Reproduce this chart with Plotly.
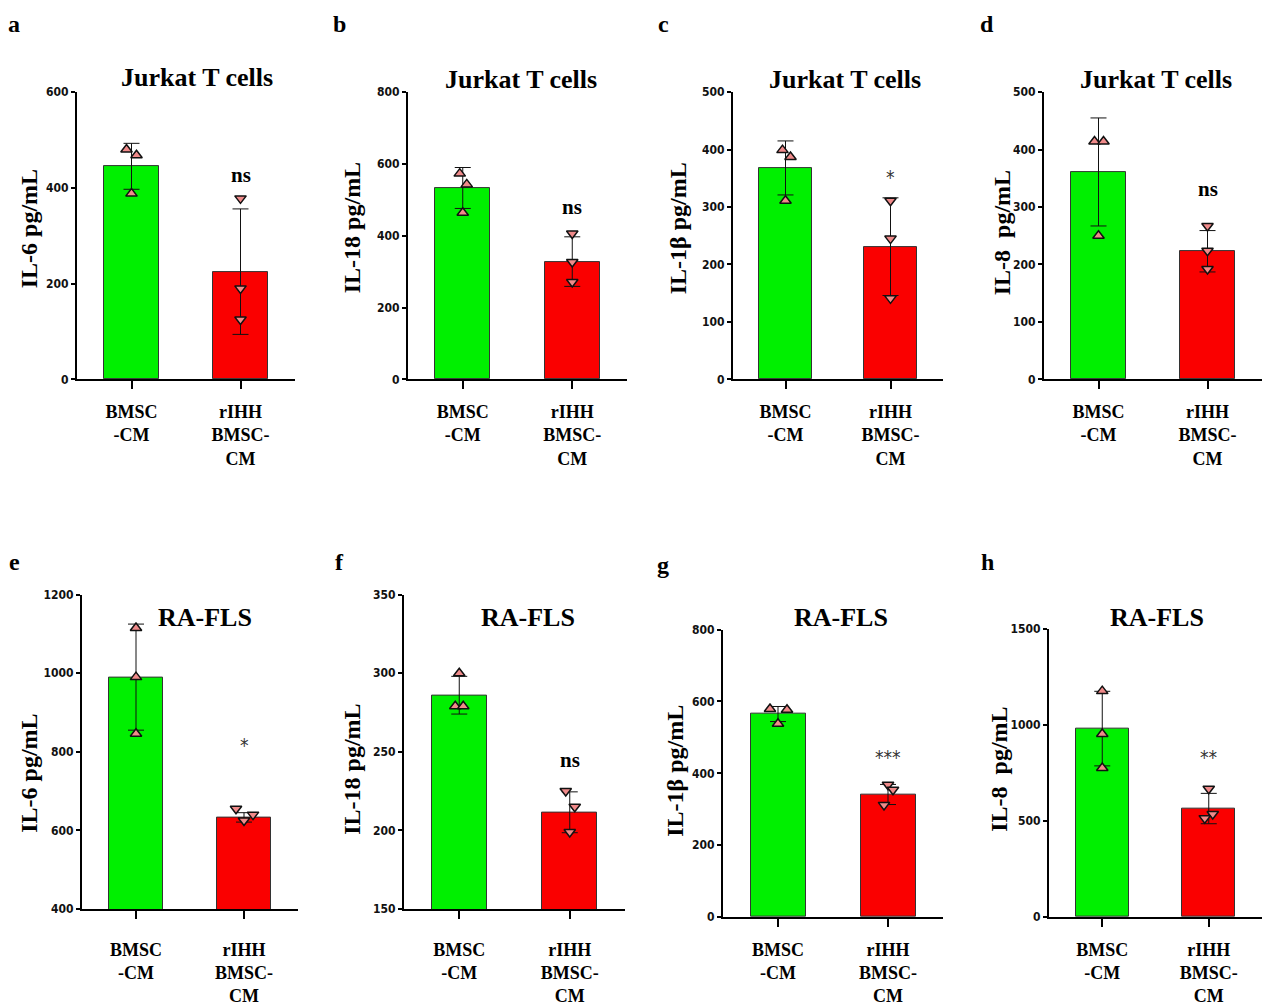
import plotly.graph_objects as go

# ---------------- data ----------------
PANEL_LETTERS = ["a", "b", "c", "d", "e", "f", "g", "h"]
TITLES = ["Jurkat T cells"] * 4 + ["RA-FLS"] * 4
Y_TITLES = ["IL-6 pg/mL", "IL-18 pg/mL", "IL-1β pg/mL", "IL-8  pg/mL"] * 2
CATEGORIES = ["BMSC<br>-CM", "rIHH<br>BMSC-<br>CM"]

MEAN_CM = [445, 533, 368, 361, 990, 286, 565, 980]
SD_CM = [48, 57, 47, 94, 135, 12, 21, 194]
MEAN_RIHH = [225, 328, 231, 223, 633, 211.5, 341, 564]
SD_RIHH = [131, 69, 85, 36, 12, 13, 28, 79]

PTS_CM = [[480, 468, 388], [573, 543, 464], [399, 387, 311], [414, 414, 250],
          [1115, 990, 846], [300, 279, 279], [579, 577, 538], [1175, 952, 775]]
PTS_RIHH = [[378, 190, 125], [406, 327, 271], [311, 245, 141], [267, 224, 192],
            [655, 625, 640], [225, 215, 199], [368, 354, 312], [667, 536, 514]]

SIG_LABELS = ["ns", "ns", "*", "ns", "*", "ns", "***", "**"]
SIG_Y = [426, 479, 352, 331, 818, 245, 446, 834]

Y_RANGES = [(0, 600), (0, 800), (0, 500), (0, 500), (400, 1200), (150, 350), (0, 800), (0, 1500)]
Y_DTICK = [200, 200, 100, 100, 200, 50, 200, 500]

# ---------------- style / layout ----------------
W, H = 1264, 1006
# the page is shown with an 8px top offset and a slight vertical squeeze; compensate
OY, SY = 8.0, 988.0 / 1004.0
BOXES = [(77, 295, 93, 380), (408, 627, 93, 380), (733, 943, 93, 380), (1044, 1262, 93, 380),
         (82, 298, 595, 909), (404, 625, 595, 909), (723, 943, 630, 917), (1049, 1262, 629, 917)]
LABEL_STANDOFF = [7, 7, 7, 7, 15, 15, 7, 7]
JIT_CM = [[-5, 5, 0], [-3, 4, 0], [-3, 5, 0], [-4, 5, 0], [0, 0, 0], [0, -4, 4], [-8, 9, 0], [0, 0, 0]]
JIT_RIHH = [[0, 0, 0], [0, 0, 0], [0, 0, 0], [0, 0, 0], [-8, 0, 9], [-4, 5, 0], [0, 5, -4], [0, 4, -4]]
LETTER_POS = [(14, 25), (339, 25), (663, 25), (987, 25), (14, 562), (339, 562), (663, 565), (987, 562)]
TITLE_POS = [(197, 78), (521, 80), (845, 80), (1156, 80), (205, 618), (528, 618), (841, 618), (1157, 618)]
YTITLE_X = [29, 352, 678, 1002, 29, 352, 675, 999]
YTITLE_Y = [230, 229, 229, 234, 774, 770, 771, 770]

SERIF = "Liberation Serif, Times New Roman, serif"
NARROW = "Liberation Sans Narrow, Arial Narrow, DejaVu Sans Condensed, sans-serif"
GREEN = "#00f000"
RED = "#fa0000"
MARKER_FILL = "#f08a8a"


def px_x(v):
    return v / W


def px_y(v):
    return 1 - ((v - OY) / SY) / H


fig = go.Figure()
annotations = []
for i in range(8):
    ax = "" if i == 0 else str(i + 1)
    xref, yref = "x" + ax, "y" + ax
    l, r, t, b = BOXES[i]
    unit = (r - l) / 2.0

    fig.add_trace(go.Bar(
        x=[0, 1], y=[MEAN_CM[i], MEAN_RIHH[i]],
        width=0.5,
        marker=dict(color=[GREEN, RED], line=dict(color="#333333", width=1)),
        error_y=dict(type="data", array=[SD_CM[i], SD_RIHH[i]], visible=True,
                     color="#111111", thickness=1, width=8),
        xaxis=xref, yaxis=yref, showlegend=False, hoverinfo="skip"))

    fig.add_trace(go.Scatter(
        x=[0 + j / unit for j in JIT_CM[i]], y=PTS_CM[i], mode="markers",
        marker=dict(symbol="triangle-up", size=10, color=MARKER_FILL,
                    line=dict(color="#111111", width=1.5)),
        xaxis=xref, yaxis=yref, showlegend=False, hoverinfo="skip"))
    fig.add_trace(go.Scatter(
        x=[1 + j / unit for j in JIT_RIHH[i]], y=PTS_RIHH[i], mode="markers",
        marker=dict(symbol="triangle-down", size=10, color=MARKER_FILL,
                    line=dict(color="#111111", width=1.5)),
        xaxis=xref, yaxis=yref, showlegend=False, hoverinfo="skip"))

    lo, hi = Y_RANGES[i]
    fig.update_layout({
        "xaxis" + ax: dict(domain=[px_x(l), px_x(r)], range=[-0.5, 1.5], anchor=yref,
                           tickmode="array", tickvals=[0, 1], ticktext=CATEGORIES,
                           showline=True, linecolor="black", linewidth=2,
                           ticks="outside", ticklen=8, tickwidth=1.5, tickcolor="black",
                           ticklabelstandoff=LABEL_STANDOFF[i],
                           showgrid=False, zeroline=False, fixedrange=True,
                           tickfont=dict(family=SERIF, size=18, color="black", weight="bold")),
        "yaxis" + ax: dict(domain=[px_y(b), px_y(t)], range=[lo, hi], anchor=xref,
                           tickmode="linear", tick0=lo, dtick=Y_DTICK[i],
                           showline=True, linecolor="black", linewidth=2,
                           ticks="outside", ticklen=4, tickwidth=1.5, tickcolor="black",
                           showgrid=False, zeroline=False, fixedrange=True,
                           tickfont=dict(family=NARROW, size=12, color="#111111", weight="bold")),
    })

    is_ns = SIG_LABELS[i] == "ns"
    annotations.append(dict(text=SIG_LABELS[i], x=1, y=SIG_Y[i], xref=xref, yref=yref,
                            showarrow=False, xanchor="center", yanchor="middle",
                            font=dict(family=SERIF if is_ns else NARROW,
                                      size=21 if is_ns else 19,
                                      color="black" if is_ns else "#333333",
                                      weight="bold" if is_ns else "normal")))
    lx, ly = LETTER_POS[i]
    annotations.append(dict(text=PANEL_LETTERS[i], x=px_x(lx), y=px_y(ly), xref="paper", yref="paper",
                            showarrow=False, xanchor="center", yanchor="middle",
                            font=dict(family=SERIF, size=24, color="black", weight="bold")))
    tx, ty = TITLE_POS[i]
    annotations.append(dict(text=TITLES[i], x=px_x(tx), y=px_y(ty), xref="paper", yref="paper",
                            showarrow=False, xanchor="center", yanchor="middle",
                            font=dict(family=SERIF, size=26, color="black", weight="bold")))
    annotations.append(dict(text=Y_TITLES[i], x=px_x(YTITLE_X[i]), y=px_y(YTITLE_Y[i]),
                            xref="paper", yref="paper", textangle=-90,
                            showarrow=False, xanchor="center", yanchor="middle",
                            font=dict(family=SERIF, size=24, color="black", weight="bold")))

fig.update_layout(width=W, height=H, margin=dict(l=0, r=0, t=0, b=0),
                  paper_bgcolor="white", plot_bgcolor="white",
                  annotations=annotations, bargap=0)

fig.write_html("out.html", config={"displayModeBar": False},
               post_script="document.body.style.margin='0';document.body.style.overflow='hidden';")
